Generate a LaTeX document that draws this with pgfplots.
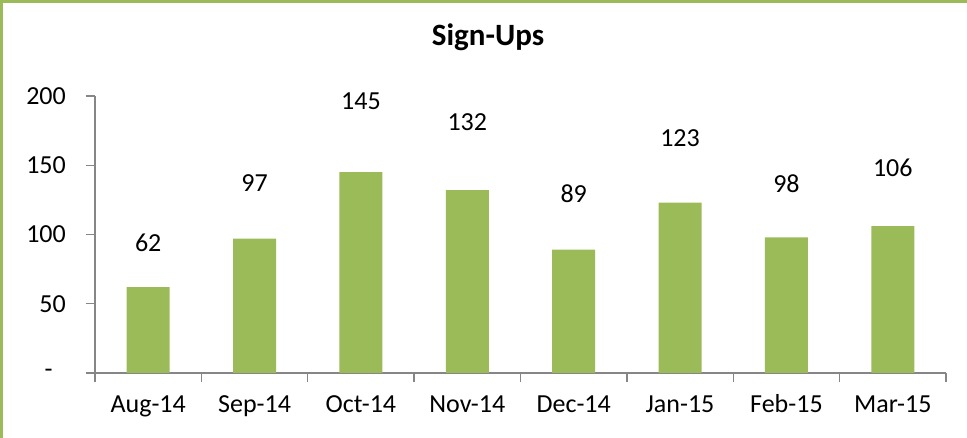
\documentclass[border=0pt]{standalone}
\usepackage{fontspec}
\setmainfont{Carlito}
\usepackage{pgfplots}
\pgfplotsset{compat=1.18}
\definecolor{bargreen}{HTML}{9BBB59}
\definecolor{bordergreen}{HTML}{9BBB59}
\definecolor{axisgray}{HTML}{868686}
\begin{document}
\begin{tikzpicture}[x=1pt,y=1pt]
\useasboundingbox (0,0) rectangle (967,438);
\draw[bordergreen, line width=3pt] (1.5,0) -- (1.5,436.5) -- (967,436.5);
\begin{axis}[
  at={(95pt,65pt)}, anchor=south west,
  scale only axis, width=851pt, height=277pt,
  xmin=-0.5, xmax=7.5, ymin=0, ymax=200,
  axis x line=bottom, axis y line=left,
  axis line style={axisgray, line width=1.3pt, -},
  tick align=outside,
  xtick={0,...,7},
  xticklabels={Aug-14,Sep-14,Oct-14,Nov-14,Dec-14,Jan-15,Feb-15,Mar-15},
  major x tick style={draw=none},
  minor xtick={-0.5,0.5,...,7.5},
  minor tick length=9pt,
  minor x tick style={axisgray, line width=1.3pt},
  ytick={0,50,100,150,200},
  yticklabels={{-\hphantom{0}},50,100,150,200},
  major tick length=9pt,
  major y tick style={axisgray, line width=1.3pt},
  /pgf/number format/assume math mode=true,
  tick label style={font=\fontsize{26}{30}\selectfont, text=black},
  yticklabel style={inner sep=0pt, xshift=-20pt},
  xticklabel style={inner sep=0pt, yshift=-14pt, text height=16.5pt, text depth=6pt},
  title={\textbf{Sign-Ups}},
  title style={at={(0.4618,1.191)}, anchor=center, font=\fontsize{31}{36}\selectfont},
  clip=false,
]
\addplot[ybar, bar width=43pt, fill=bargreen, draw=none] coordinates {
  (0,62) (1,97) (2,145) (3,132) (4,89) (5,123) (6,98) (7,106)
};
\addplot[draw=none, mark=none, nodes near coords, point meta=explicit symbolic,
  every node near coord/.style={anchor=center, font=\fontsize{26}{30}\selectfont, text=black}]
  coordinates {
  (0,94.1) [62] (1,137.4) [97] (2,195.9) [145] (3,181.4) [132]
  (4,129.7) [89] (5,169.5) [123] (6,136.5) [98] (7,147.8) [106]
};
\end{axis}
\end{tikzpicture}
\end{document}
